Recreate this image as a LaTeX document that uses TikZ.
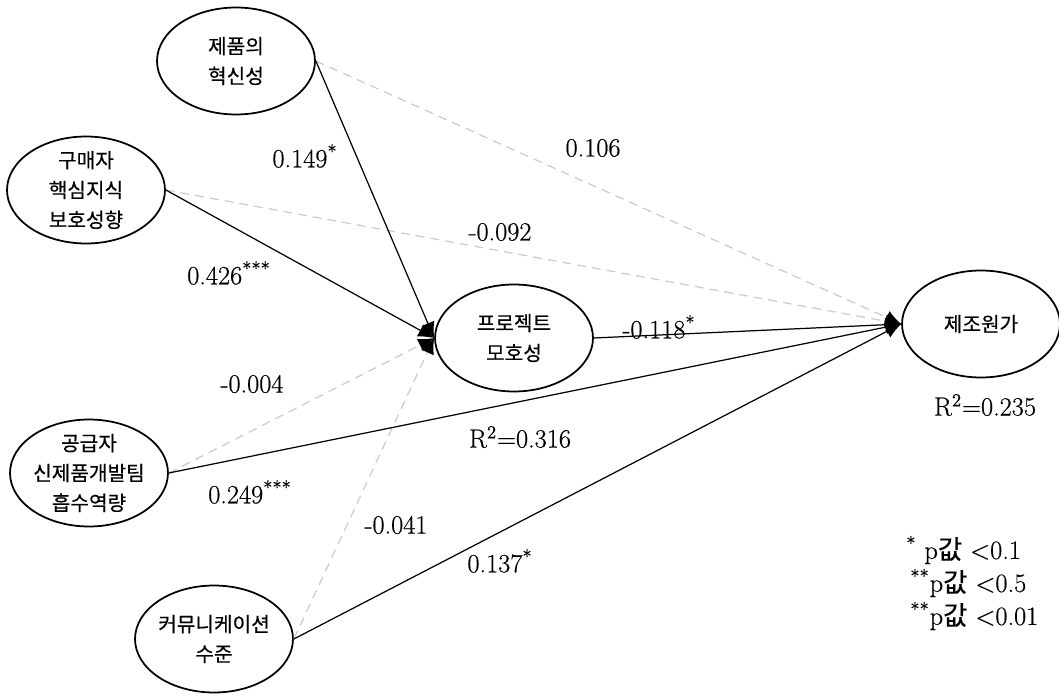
\documentclass[tikz,border=0pt]{standalone}
\usepackage{fontspec}
\newfontfamily\kr[FakeBold=0.4]{Noto Sans CJK KR}
\newfontfamily\numf[FakeBold=0.5]{Latin Modern Roman}
\usetikzlibrary{shapes.geometric,arrows.meta}
\begin{document}
\begin{tikzpicture}[x=0.02cm,y=-0.02cm,
  ell/.style={draw,line width=1pt,ellipse,minimum width=3.16cm,minimum height=2.14cm,inner sep=0pt},
  nodetxt/.style={font=\kr\fontsize{11.5}{17}\selectfont,align=center,inner sep=0pt},
  num/.style={font=\numf\fontsize{15}{18}\selectfont,inner sep=0pt},
  sig/.style={line width=0.7pt,-{Latex[length=9pt,width=8pt]}},
  nsig/.style={line width=0.7pt,gray!40,dash pattern=on 5pt off 3.5pt,-{Latex[length=9pt,width=8pt,color=black]}},
]
\useasboundingbox (0,0) rectangle (1059,696);
\fill[white] (0,0) rectangle (1059,696);

% ellipses
\node[ell] (A) at (236,61) {};
\node[nodetxt] (tA) at (A) {제품의\\혁신성};
\node[ell] (B) at (86,190) {};
\node[nodetxt] (tB) at (B) {구매자\\핵심지식\\보호성향};
\node[ell] (C) at (89,473) {};
\node[nodetxt] (tC) at (C) {공급자\\신제품개발팀\\흡수역량};
\node[ell] (D) at (214,639) {};
\node[nodetxt] (tD) at (D) {커뮤니케이션\\수준};
\node[ell] (P) at (514,338) {};
\node[nodetxt] (tP) at (P) {프로젝트\\모호성};
\node[ell] (M) at (981,324) {};
\node[nodetxt] (tM) at (M) {제조원가};

% non-significant paths
\draw[nsig] (A.east) -- (M.west);
\draw[nsig] (B.east) -- (M.west);
\draw[nsig] (C.east) -- (P.west);
\draw[nsig] (D.east) -- (P.west);
% significant paths
\draw[sig] (A.east) -- (P.west);
\draw[sig] (B.east) -- (P.west);
\draw[sig] (C.east) -- (M.west);
\draw[sig] (D.east) -- (M.west);
\draw[sig] (P.east) -- (M.west);

% coefficients
\node[num] (l1) at (305,156) {0.149\textsuperscript{*}};
\node[num] (l2) at (593,148) {0.106};
\node[num] (l3) at (229,273) {0.426\textsuperscript{***}};
\node[num] (l4) at (500,232) {-0.092};
\node[num] (l5) at (252,384) {-0.004};
\node[num] (l6) at (250,492) {0.249\textsuperscript{***}};
\node[num] (l7) at (396,525) {-0.041};
\node[num] (l8) at (500,561) {0.137\textsuperscript{*}};
\node[num] (l9) at (659,327) {-0.118\textsuperscript{*}};
\node[num] (r1) at (520,437) {R\textsuperscript{2}=0.316};
\node[num] (r2) at (985,405) {R\textsuperscript{2}=0.235};

% legend
\node[num,anchor=west] (g1) at (906,550) {\textsuperscript{*} p{\kr 값} <0.1};
\node[num,anchor=west] (g2) at (910,583) {\textsuperscript{**}p{\kr 값} <0.5};
\node[num,anchor=west] (g3) at (910,616) {\textsuperscript{**}p{\kr 값} <0.01};
\end{tikzpicture}
\end{document}
